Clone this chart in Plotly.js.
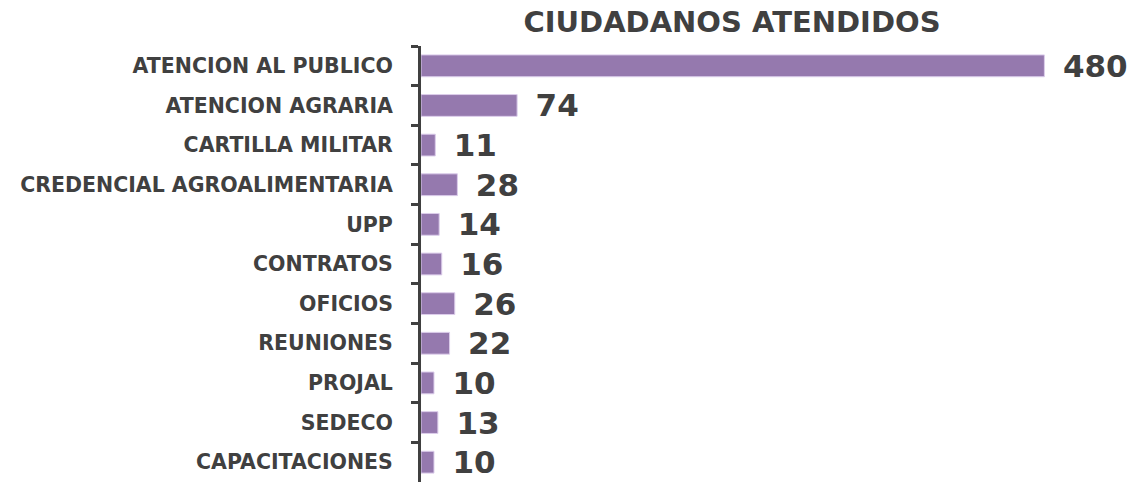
<!DOCTYPE html>
<html>
<head>
<meta charset="utf-8">
<script src="https://cdn.plot.ly/plotly-3.0.1.min.js"></script>
<style>html,body{margin:0;padding:0;background:#fff;}#chart{width:1134px;height:482px;}</style>
</head>
<body>
<div id="chart"></div>
<script>
const categories = ["ATENCION AL PUBLICO","ATENCION AGRARIA","CARTILLA MILITAR","CREDENCIAL AGROALIMENTARIA","UPP","CONTRATOS","OFICIOS","REUNIONES","PROJAL","SEDECO","CAPACITACIONES"];
const values = [480,74,11,28,14,16,26,22,10,13,10];
const chartTitle = "CIUDADANOS ATENDIDOS";

const font = "'DejaVu Sans', sans-serif";
const dark = "#404040";

const trace = {
  type: "bar",
  orientation: "h",
  x: values,
  y: categories,
  width: 0.55,
  marker: {color: "#9579AE", line: {color: "#DCCDEB", width: 1}},
  text: values.map(v => String(v)),
  texttemplate: "\u2002%{text}",
  textposition: "outside",
  constraintext: "none",
  cliponaxis: false,
  textfont: {family: font, size: 31, color: dark, weight: 700},
  hoverinfo: "skip"
};

const layout = {
  width: 1134, height: 482,
  margin: {l: 421, r: 0, t: 46, b: 0},
  paper_bgcolor: "#fff", plot_bgcolor: "#fff",
  showlegend: false,
  bargap: 0.45,
  title: {text: chartTitle, x: 0.6455, xref: "container", xanchor: "center", y: 0.955, yref: "container", yanchor: "middle",
          font: {family: font, size: 29, color: dark, weight: 700}},
  xaxis: {range: [0, 549], visible: false, showgrid: false, zeroline: false},
  yaxis: {type: "category", autorange: "reversed", showline: true, linecolor: dark, linewidth: 3,
          ticks: "outside", tickson: "boundaries", ticklen: 7, tickwidth: 3, tickcolor: dark,
          ticklabelstandoff: 21,
          tickfont: {family: font, size: 20.5, color: dark, weight: 700}, showgrid: false, zeroline: false}
};

Plotly.newPlot("chart", [trace], layout, {displayModeBar: false, staticPlot: true});
</script>
</body>
</html>
